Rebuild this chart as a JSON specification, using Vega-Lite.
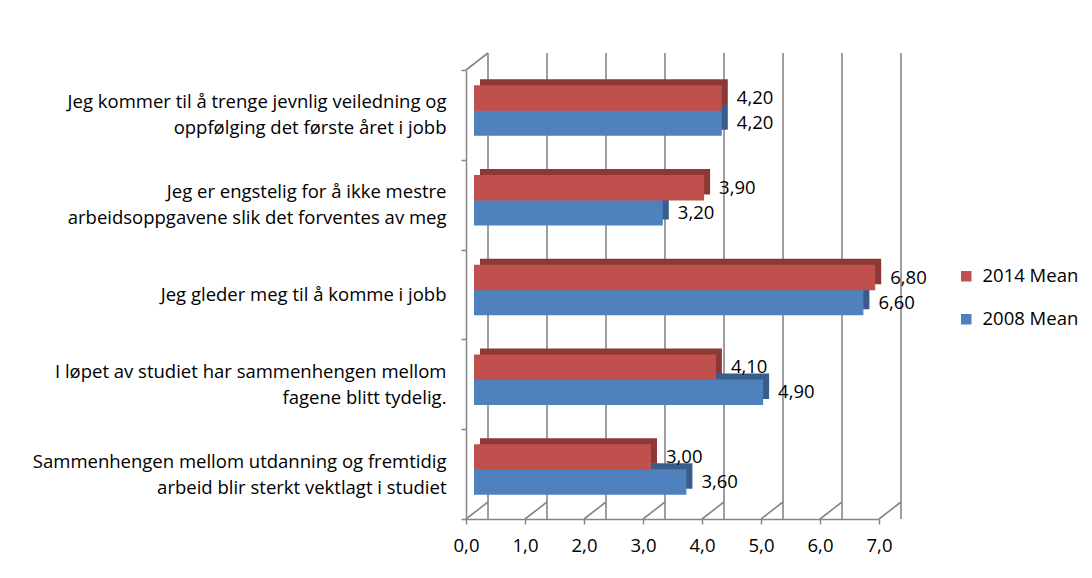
{
  "$schema": "https://vega.github.io/schema/vega-lite/v6.json",
  "width": 413,
  "height": 449,
  "autosize": {"type": "none"},
  "padding": {"left": 466, "top": 70, "right": 213, "bottom": 59},
  "background": "white",
  "datasets": {
    "bars": [
      {"q": "Jeg kommer til å trenge jevnlig veiledning og|oppfølging det første året i jobb", "year": "2014 Mean", "v": 4.2},
      {"q": "Jeg kommer til å trenge jevnlig veiledning og|oppfølging det første året i jobb", "year": "2008 Mean", "v": 4.2},
      {"q": "Jeg er engstelig for å ikke mestre|arbeidsoppgavene slik det forventes av meg", "year": "2014 Mean", "v": 3.9},
      {"q": "Jeg er engstelig for å ikke mestre|arbeidsoppgavene slik det forventes av meg", "year": "2008 Mean", "v": 3.2},
      {"q": "Jeg gleder meg til å komme i jobb", "year": "2014 Mean", "v": 6.8},
      {"q": "Jeg gleder meg til å komme i jobb", "year": "2008 Mean", "v": 6.6},
      {"q": "I løpet av studiet har sammenhengen mellom|fagene blitt tydelig.", "year": "2014 Mean", "v": 4.1},
      {"q": "I løpet av studiet har sammenhengen mellom|fagene blitt tydelig.", "year": "2008 Mean", "v": 4.9},
      {"q": "Sammenhengen mellom utdanning og fremtidig|arbeid blir sterkt vektlagt i studiet", "year": "2014 Mean", "v": 3.0},
      {"q": "Sammenhengen mellom utdanning og fremtidig|arbeid blir sterkt vektlagt i studiet", "year": "2008 Mean", "v": 3.6}
    ],
    "grid": [{"g": 0}, {"g": 1}, {"g": 2}, {"g": 3}, {"g": 4}, {"g": 5}, {"g": 6}, {"g": 7}]
  },
  "config": {
    "locale": {"number": {"decimal": ",", "thousands": " ", "grouping": [3], "currency": ["", " kr"]}},
    "font": "Open Sans",
    "view": {"stroke": null},
    "axis": {
      "labelFont": "Open Sans",
      "labelFontSize": 18.5,
      "labelColor": "#000000",
      "domainColor": "#868686",
      "domainWidth": 1.5,
      "tickColor": "#868686",
      "tickWidth": 1.5,
      "tickSize": 5,
      "grid": false,
      "title": null
    }
  },
  "resolve": {"scale": {"y": "independent"}},
  "layer": [
    {
      "data": {"name": "grid"},
      "mark": {"type": "rule", "xOffset": 22, "yOffset": -17, "color": "#868686", "strokeWidth": 1.6},
      "encoding": {
        "x": {"field": "g", "type": "quantitative", "scale": {"domain": [0, 7], "nice": false}, "axis": {"values": [0, 1, 2, 3, 4, 5, 6, 7], "format": ".1f", "labelPadding": 12, "labelFlush": false, "title": null}}
      }
    },
    {
      "data": {"name": "grid"},
      "mark": {"type": "rule", "xOffset": 22, "yOffset": -17, "x2Offset": 0, "y2Offset": 0, "color": "#868686", "strokeWidth": 1.6},
      "encoding": {
        "x": {"field": "g", "type": "quantitative"},
        "x2": {"field": "g"},
        "y": {"datum": 0, "type": "quantitative", "scale": {"domain": [0, 1]}, "axis": null},
        "y2": {"datum": 0}
      }
    },
    {
      "data": {"name": "grid"},
      "transform": [{"filter": "datum.g == 0"}],
      "mark": {"type": "rule", "xOffset": 0, "yOffset": 0, "x2Offset": 22, "y2Offset": -17, "color": "#868686", "strokeWidth": 1.6},
      "encoding": {
        "x": {"field": "g", "type": "quantitative"},
        "x2": {"field": "g"},
        "y": {"datum": 1, "type": "quantitative", "scale": {"domain": [0, 1]}, "axis": null},
        "y2": {"datum": 1}
      }
    },
    {
      "data": {"name": "bars"},
      "encoding": {
        "y": {
          "field": "q",
          "type": "nominal",
          "sort": null,
          "scale": {"paddingInner": 0, "paddingOuter": 0},
          "axis": {
            "title": null,
            "labelExpr": "split(datum.label, '|')",
            "labelLineHeight": 26,
            "labelPadding": 15,
            "labelLimit": 460,
            "labelOffset": {"condition": {"test": "indexof(datum.label, '|') >= 0", "value": -13}, "value": 0},
            "tickBand": "extent"
          }
        },
        "x": {"field": "v", "type": "quantitative"}
      },
      "layer": [
        {
          "transform": [{"filter": "datum.year == '2008 Mean'"}],
          "mark": {"type": "bar", "height": 25.5, "yOffset": 2, "xOffset": 14, "x2Offset": 14, "color": "#385D8A"}
        },
        {
          "transform": [{"filter": "datum.year == '2008 Mean'"}],
          "mark": {"type": "bar", "height": 25.5, "yOffset": 8, "xOffset": 8, "x2Offset": 8},
          "encoding": {
            "color": {
              "field": "year",
              "type": "nominal",
              "scale": {"domain": ["2014 Mean", "2008 Mean"], "range": ["#C0504D", "#4F81BD"]},
              "legend": {"title": null, "orient": "none", "legendX": 491, "legendY": 197, "symbolType": "square", "symbolSize": 110, "symbolStrokeWidth": 0, "labelFontSize": 18.5, "labelFont": "Open Sans", "labelColor": "#000000", "rowPadding": 24, "labelOffset": 7}
            }
          }
        },
        {
          "transform": [{"filter": "datum.year == '2014 Mean'"}],
          "mark": {"type": "bar", "height": 25.5, "yOffset": -23, "xOffset": 14, "x2Offset": 14, "color": "#8C3836"}
        },
        {
          "transform": [{"filter": "datum.year == '2014 Mean'"}],
          "mark": {"type": "bar", "height": 25.5, "yOffset": -17, "xOffset": 8, "x2Offset": 8},
          "encoding": {
            "color": {"field": "year", "type": "nominal"}
          }
        },
        {
          "transform": [{"filter": "datum.year == '2014 Mean'"}],
          "mark": {"type": "text", "align": "left", "baseline": "middle", "dx": 23, "yOffset": -17, "fontSize": 18.5, "color": "#000000"},
          "encoding": {"text": {"field": "v", "type": "quantitative", "format": ".2f"}}
        },
        {
          "transform": [{"filter": "datum.year == '2008 Mean'"}],
          "mark": {"type": "text", "align": "left", "baseline": "middle", "dx": 23, "yOffset": 8, "fontSize": 18.5, "color": "#000000"},
          "encoding": {"text": {"field": "v", "type": "quantitative", "format": ".2f"}}
        }
      ]
    }
  ]
}
